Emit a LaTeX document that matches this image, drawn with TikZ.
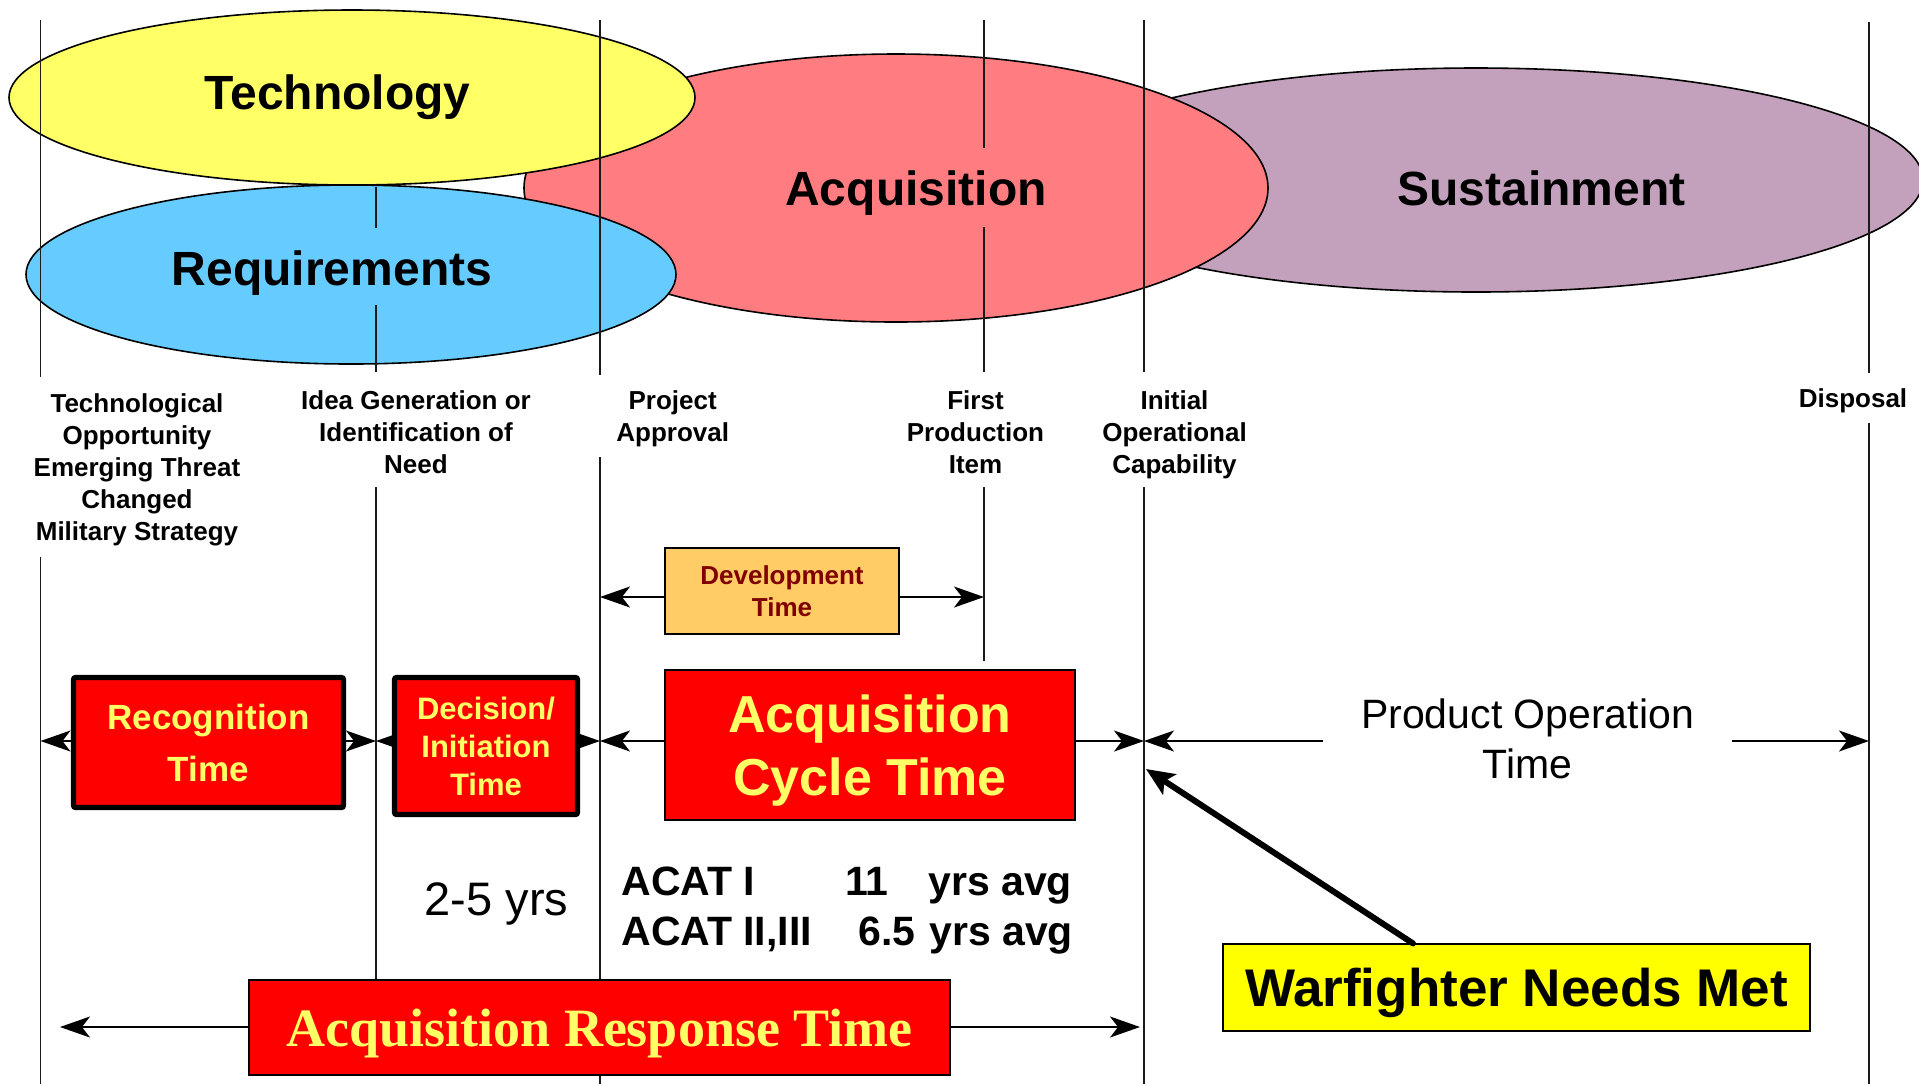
\documentclass[tikz,border=0pt]{standalone}
\usepackage{fontspec}
\setmainfont{Liberation Sans}
\newfontfamily\timesfont{Liberation Serif}
\usetikzlibrary{arrows.meta,shapes.geometric}

\pgfdeclarelayer{back}
\pgfdeclarelayer{rules}
\pgfsetlayers{back,rules,main}

\definecolor{techyellow}{HTML}{FFFF66}
\definecolor{reqblue}{HTML}{66CCFF}
\definecolor{acqred}{HTML}{FF7C80}
\definecolor{susviolet}{HTML}{C3A0BC}
\definecolor{devorange}{HTML}{FFCC66}
\definecolor{devtext}{HTML}{800000}
\definecolor{boxred}{HTML}{FF0000}
\definecolor{boxtext}{HTML}{FFFF66}
\definecolor{wfyellow}{HTML}{FFFF00}
\definecolor{rulegray}{HTML}{1A1A1A}

\newcommand\sz[2]{\fontsize{#1}{#2}\selectfont}

\begin{document}
\begin{tikzpicture}[x=0.5pt,y=-0.5pt,
  phase/.style={ellipse, draw=black, line width=0.8pt, inner sep=0pt},
  phaselabel/.style={font=\sz{24pt}{28pt}\bfseries, inner sep=0pt, anchor=base},
  milestone/.style={font=\sz{13pt}{16pt}\bfseries, align=center, inner sep=0pt},
  rule/.style={draw=rulegray, line width=0.75pt},
  span/.style={draw=black, line width=0.8pt, -{Stealth[length=15pt,width=10.5pt,inset=4pt]}},
  redbox/.style={fill=boxred, draw=black, inner sep=0pt, align=center, text=boxtext, text depth=0pt},
  plain/.style={inner sep=0pt},
]
\useasboundingbox (0,0) rectangle (1919,1084);

% life-cycle phases
\begin{pgfonlayer}{back}
  \node[phase, fill=susviolet,  minimum width=447pt, minimum height=112pt]  (sus)  at (1476,180)   {};
  \node[phase, fill=acqred,     minimum width=372pt, minimum height=134pt]  (acq)  at (896,188)    {};
  \node[phase, fill=reqblue,    minimum width=325pt, minimum height=89.5pt] (req)  at (351,274.5)  {};
  \node[phase, fill=techyellow, minimum width=343pt, minimum height=87.5pt] (tech) at (352,97.5)   {};
\end{pgfonlayer}

\node[phaselabel] (techlbl) at (337.5,109)  {Technology};
\node[phaselabel] (reqlbl)  at (332,285)    {Requirements};
\node[phaselabel] (acqlbl)  at (916,205)    {Acquisition};
\node[phaselabel] (suslbl)  at (1541.5,205) {Sustainment};

% milestone rules
\begin{pgfonlayer}{rules}
  \draw[rule] (40.5,20) -- (40.5,377);   \draw[rule] (40.5,557) -- (40.5,1084);
  \draw[rule] (376,187) -- (376,228);    \draw[rule] (376,305) -- (376,372);
  \draw[rule] (376,487) -- (376,980);
  \draw[rule] (600,20) -- (600,375);     \draw[rule] (600,457) -- (600,1084);
  \draw[rule] (984,20) -- (984,148);     \draw[rule] (984,227) -- (984,372);
  \draw[rule] (984,487) -- (984,661);
  \draw[rule] (1144,20) -- (1144,372);   \draw[rule] (1144,487) -- (1144,1084);
  \draw[rule] (1869,22) -- (1869,373);   \draw[rule] (1869,423) -- (1869,1084);
\end{pgfonlayer}

% milestone names
\node[milestone] (ms1) at (137,470)    {Technological\\Opportunity\\Emerging Threat\\Changed\\Military Strategy};
\node[milestone] (ms2) at (416,432.5)  {Idea Generation or\\Identification of\\Need};
\node[milestone] (ms3) at (672.7,418.5){Project\\Approval};
\node[milestone] (ms4) at (975.5,432.5){First\\Production\\Item};
\node[milestone] (ms5) at (1174.5,434.5){Initial\\Operational\\Capability};
\node[milestone] (ms6) at (1853,400.5) {Disposal};

% arrow end points on the milestone rules
\coordinate (m1) at (40.5,741);
\coordinate (m2) at (376,741);
\coordinate (m3) at (600,741);
\coordinate (m5) at (1144,741);
\coordinate (m6) at (1869,741);
\coordinate (d3) at (600,597);
\coordinate (d4) at (984,597);
\coordinate (artL) at (60,1027);
\coordinate (artR) at (1140,1027);
\coordinate (ioc) at (1146,769);

% time spans
\node[fill=devorange, draw=black, line width=0.6pt, inner sep=0pt, align=center,
      text=devtext, text depth=0pt, font=\sz{13pt}{16pt}\bfseries,
      minimum width=117pt, minimum height=43pt] (dev) at (782,591) {Development\\Time};
\node[redbox, line width=2.6pt, rounded corners=1pt, font=\sz{17.5pt}{26pt}\bfseries,
      minimum width=135pt, minimum height=65pt] (rec) at (208.5,742.5) {Recognition\\Time};
\node[redbox, line width=2.6pt, rounded corners=1pt, font=\sz{15.5pt}{19pt}\bfseries,
      minimum width=91.5pt, minimum height=68.5pt] (dec) at (486,746) {Decision/\\Initiation\\Time};
\node[redbox, line width=0.6pt, font=\sz{26pt}{31.5pt}\bfseries,
      minimum width=205pt, minimum height=75pt] (act) at (870,745) {Acquisition\\Cycle Time};
\node[plain, align=center, inner xsep=19pt, font=\sz{20.5pt}{25pt}] (pot) at (1527.5,739) {Product Operation\\Time};
\node[redbox, line width=0.6pt, font=\sz{27pt}{30pt}\timesfont\bfseries,
      minimum width=350.5pt, minimum height=47.5pt] (art) at (599.5,1027.5) {Acquisition Response Time};
\node[fill=wfyellow, draw=black, line width=0.6pt, inner sep=0pt, text depth=0pt,
      font=\sz{26.5pt}{30pt}\bfseries,
      minimum width=293.5pt, minimum height=43.5pt] (wf) at (1516.5,987.5) {Warfighter Needs Met};

\begin{pgfonlayer}{rules}
  \draw[span] (dev.center |- d3) -- (d3);
  \draw[span] (dev.center |- d4) -- (d4);
  \draw[span] (rec.center |- m1) -- (m1);
  \draw[span] (rec.center |- m2) -- (m2);
  \draw[span] (dec.center |- m2) -- (m2);
  \draw[span] (dec.center |- m3) -- (m3);
  \draw[span] (act.center |- m3) -- (m3);
  \draw[span] (act.center |- m5) -- (m5);
  \draw[span] (pot.west |- m5) -- (m5);
  \draw[span] (pot.east |- m6) -- (m6);
  \draw[span] (art.center |- artL) -- (artL);
  \draw[span] (art.center |- artR) -- (artR);
\end{pgfonlayer}

\draw[line width=3pt, line cap=round, -{Stealth[length=14pt,width=12pt,inset=3pt]}]
  ([xshift=-51.75pt]wf.north) -- (ioc);

% durations
\node[plain, anchor=base, font=\sz{23.5pt}{28pt}] (rng) at (496.5,915) {2-5 yrs};
\begin{scope}[every node/.style={plain, anchor=base west, font=\sz{20.5pt}{24pt}\bfseries}]
  \node (cat1)  at (621,895) {ACAT I};
  \node (yr1)   at (845,895) {11};
  \node (avg1)  at (928,895) {yrs avg};
  \node (cat2)  at (621,945) {ACAT II,III};
  \node (yr2)   at (858,945) {6.5};
  \node (avg2)  at (929,945) {yrs avg};
\end{scope}
\end{tikzpicture}
\end{document}
